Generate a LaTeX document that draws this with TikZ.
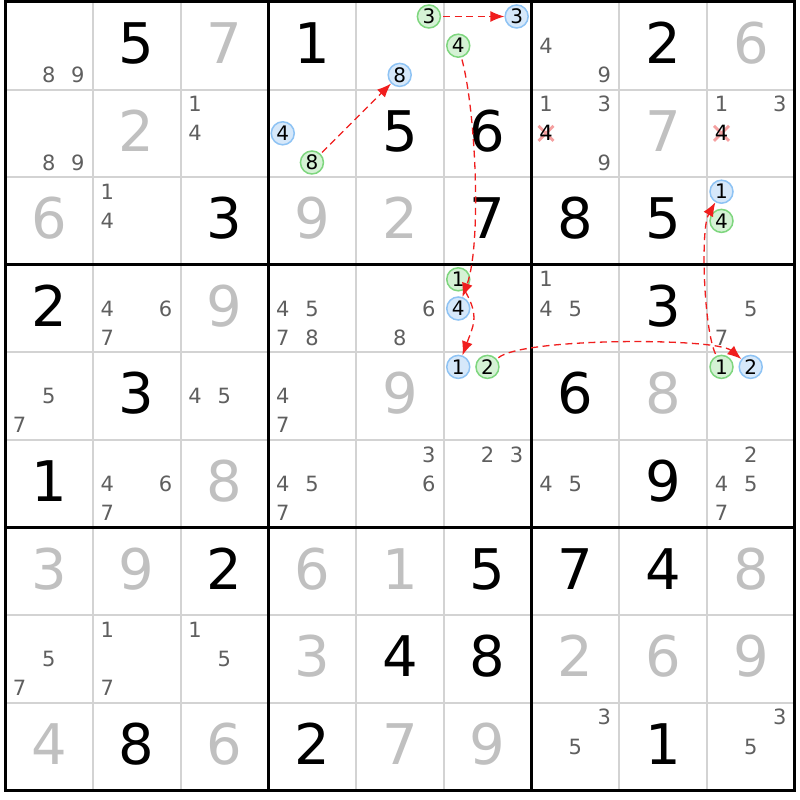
\documentclass[tikz,border=0pt]{standalone}
\usepackage{fontspec}
\setmainfont{DejaVu Sans}
\usetikzlibrary{arrows.meta}
\definecolor{solvedgray}{HTML}{C0C0C0}
\definecolor{candgray}{HTML}{5F5F5F}
\definecolor{thingrid}{HTML}{D3D3D3}
\definecolor{onfill}{HTML}{D5F2D5}
\definecolor{ondraw}{HTML}{7ED67E}
\definecolor{offfill}{HTML}{D6E8FA}
\definecolor{offdraw}{HTML}{8EC3F4}
\definecolor{linkred}{HTML}{F01E1E}
\definecolor{crossred}{HTML}{F5A0A0}
\newcommand\cellw{87.75}
\newcommand\cellh{87.6}
\newcommand\Gv[4]{\node[#4] (v#1#2) at ({5+(#2-0.5)*\cellw},{798-(#1-1)*\cellh-61.5}) {#3};}
\newcommand\Cd[4]{\node[#4] (c#1#2#3) at ({5+(#2-1)*\cellw+14.5+29.2*mod(#3-1,3)},{798-(#1-1)*\cellh-14.5-29.2*floor((#3-1)/3)}) {#3};}
\newcommand\Cl[3]{\foreach \d in {#3} {\Cd{#1}{#2}{\d}{cand}}}
\begin{document}
\begin{tikzpicture}[x=1pt,y=1pt,
  bigk/.style={anchor=base,inner sep=0pt,font=\fontsize{56}{56}\selectfont,text=black},
  bigg/.style={bigk,text=solvedgray},
  cand/.style={anchor=center,inner sep=0pt,text height=15.3pt,text depth=0pt,font=\fontsize{21}{21}\selectfont,text=candgray},
  candk/.style={cand,text=black},
  onc/.style={circle,draw=ondraw,fill=onfill,line width=1.5pt,minimum size=23pt,inner sep=0pt,text height=14.6pt,text depth=0pt,font=\fontsize{20}{20}\selectfont,text=black},
  offc/.style={onc,draw=offdraw,fill=offfill},
  thinline/.style={draw=thingrid,line width=2pt},
  thickline/.style={draw=black,line width=3pt},
  crossx/.style={draw=crossred,line width=2.8pt},
  link/.style={draw=linkred,line width=1.3pt,dash pattern=on 7pt off 4.5pt,-{Latex[length=14pt,width=11pt]},shorten <=2pt}]
\useasboundingbox (0,0) rectangle (800,800);
\fill[white] (0,0) rectangle (800,800);
% grid
\foreach \i in {1,2,4,5,7,8} {
  \draw[thinline] ({5+\i*\cellw},{798-9*\cellh}) -- ({5+\i*\cellw},798);
  \draw[thinline] (5,{798-\i*\cellh}) -- ({5+9*\cellw},{798-\i*\cellh});
}
\foreach \i in {3,6} {
  \draw[thickline] ({5+\i*\cellw},{798-9*\cellh}) -- ({5+\i*\cellw},798);
  \draw[thickline] (5,{798-\i*\cellh}) -- ({5+9*\cellw},{798-\i*\cellh});
}
\draw[thickline] (5,798) rectangle ({5+9*\cellw},{798-9*\cellh});
% crosses behind eliminated candidates
\coordinate (x27) at ({5+6*\cellw+14.5},{798-\cellh-14.5-29.2});
\coordinate (x29) at ({5+8*\cellw+14.5},{798-\cellh-14.5-29.2});
\foreach \p in {x27,x29} {
  \draw[crossx] ([shift={(-7.5,-7.5)}]\p) -- ([shift={(7.5,7.5)}]\p);
  \draw[crossx] ([shift={(-7.5,7.5)}]\p) -- ([shift={(7.5,-7.5)}]\p);
}
% big digits
\Gv{1}{2}{5}{bigk}\Gv{1}{3}{7}{bigg}\Gv{1}{4}{1}{bigk}\Gv{1}{8}{2}{bigk}\Gv{1}{9}{6}{bigg}
\Gv{2}{2}{2}{bigg}\Gv{2}{5}{5}{bigk}\Gv{2}{6}{6}{bigk}\Gv{2}{8}{7}{bigg}
\Gv{3}{1}{6}{bigg}\Gv{3}{3}{3}{bigk}\Gv{3}{4}{9}{bigg}\Gv{3}{5}{2}{bigg}\Gv{3}{6}{7}{bigk}\Gv{3}{7}{8}{bigk}\Gv{3}{8}{5}{bigk}
\Gv{4}{1}{2}{bigk}\Gv{4}{3}{9}{bigg}\Gv{4}{8}{3}{bigk}
\Gv{5}{2}{3}{bigk}\Gv{5}{5}{9}{bigg}\Gv{5}{7}{6}{bigk}\Gv{5}{8}{8}{bigg}
\Gv{6}{1}{1}{bigk}\Gv{6}{3}{8}{bigg}\Gv{6}{8}{9}{bigk}
\Gv{7}{1}{3}{bigg}\Gv{7}{2}{9}{bigg}\Gv{7}{3}{2}{bigk}\Gv{7}{4}{6}{bigg}\Gv{7}{5}{1}{bigg}\Gv{7}{6}{5}{bigk}\Gv{7}{7}{7}{bigk}\Gv{7}{8}{4}{bigk}\Gv{7}{9}{8}{bigg}
\Gv{8}{4}{3}{bigg}\Gv{8}{5}{4}{bigk}\Gv{8}{6}{8}{bigk}\Gv{8}{7}{2}{bigg}\Gv{8}{8}{6}{bigg}\Gv{8}{9}{9}{bigg}
\Gv{9}{1}{4}{bigg}\Gv{9}{2}{8}{bigk}\Gv{9}{3}{6}{bigg}\Gv{9}{4}{2}{bigk}\Gv{9}{5}{7}{bigg}\Gv{9}{6}{9}{bigg}\Gv{9}{8}{1}{bigk}
% candidates
\Cl{1}{1}{8,9}\Cl{1}{7}{4,9}
\Cl{2}{1}{8,9}\Cl{2}{3}{1,4}\Cl{2}{7}{1,3,9}\Cl{2}{9}{1,3}
\Cd{2}{7}{4}{candk}\Cd{2}{9}{4}{candk}
\Cl{3}{2}{1,4}
\Cl{4}{2}{4,6,7}\Cl{4}{4}{4,5,7,8}\Cl{4}{5}{6,8}\Cl{4}{7}{1,4,5}\Cl{4}{9}{5,7}
\Cl{5}{1}{5,7}\Cl{5}{3}{4,5}\Cl{5}{4}{4,7}
\Cl{6}{2}{4,6,7}\Cl{6}{4}{4,5,7}\Cl{6}{5}{3,6}\Cl{6}{6}{2,3}\Cl{6}{7}{4,5}\Cl{6}{9}{2,4,5,7}
\Cl{8}{1}{5,7}\Cl{8}{2}{1,7}\Cl{8}{3}{1,5}
\Cl{9}{7}{3,5}\Cl{9}{9}{3,5}
% circled candidates
\Cd{1}{5}{3}{onc}\Cd{1}{5}{8}{offc}
\Cd{1}{6}{3}{offc}\Cd{1}{6}{4}{onc}
\Cd{2}{4}{4}{offc}\Cd{2}{4}{8}{onc}
\Cd{3}{9}{1}{offc}\Cd{3}{9}{4}{onc}
\Cd{4}{6}{1}{onc}\Cd{4}{6}{4}{offc}
\Cd{5}{6}{1}{offc}\Cd{5}{6}{2}{onc}
\Cd{5}{9}{1}{onc}\Cd{5}{9}{2}{offc}
% links
\draw[link] (c153) -- (c163);
\draw[link] (c248) -- (c158);
\draw[link] (c164) to[out=-75,in=70,looseness=0.6] (c464);
\draw[link] (c461) to[out=-60,in=70,looseness=1.2] (c561);
\draw[link] (c562) to[out=40,in=140,looseness=0.35] (c592);
\draw[link] (c591) to[out=115,in=-120,looseness=0.5] (c391);
\end{tikzpicture}
\end{document}
